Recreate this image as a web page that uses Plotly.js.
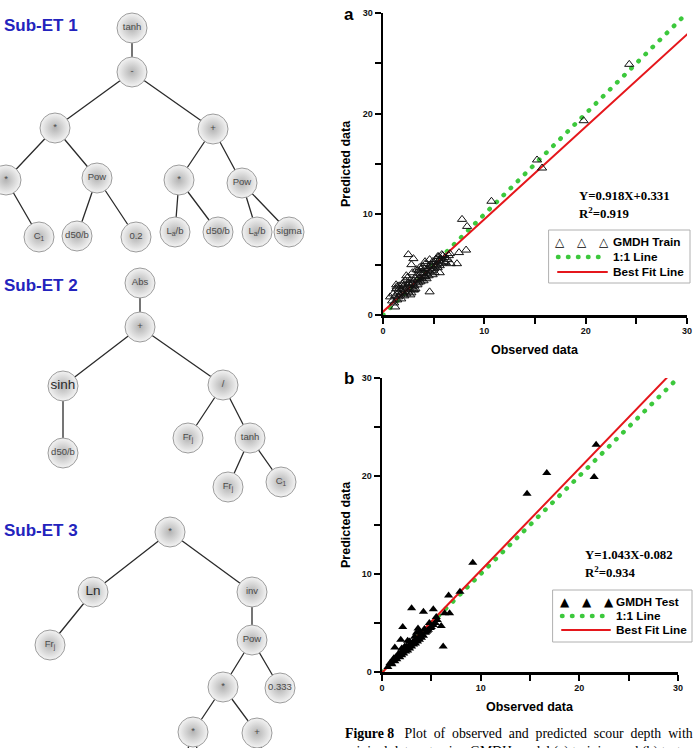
<!DOCTYPE html>
<html><head><meta charset="utf-8">
<script src="https://cdn.plot.ly/plotly-3.0.1.min.js"></script>
<style>html,body{margin:0;padding:0;background:#fff}#chart{width:693px;height:748px}
.js-line, .shapelayer path{stroke-linecap:round !important;}</style>
</head><body><div id="chart"></div>
<script>
// ---------- scatter data (observed vs predicted scour depth) ----------
const trainObs = [0.9,1.0,1.1,1.2,1.3,1.4,1.5,1.5,1.6,1.7,
  1.8,1.8,1.9,2.0,2.0,2.1,2.2,2.2,2.3,2.4,
  2.4,2.5,2.5,2.6,2.7,2.7,2.8,2.9,2.9,3.0,
  3.0,3.1,3.2,3.2,3.3,3.4,3.4,3.5,3.5,3.6,
  3.7,3.7,3.8,3.9,3.9,4.0,4.0,4.1,4.2,4.2,
  4.3,4.4,4.5,4.5,4.6,4.7,4.8,4.8,4.9,5.0,
  5.0,5.1,5.2,5.3,5.4,5.5,5.5,5.6,5.7,5.8,
  5.9,6.0,6.1,6.2,6.4,6.5,1.3,1.6,2.1,2.6,
  3.1,3.6,4.1,4.6,5.1,1.9,2.3,2.8,3.3,3.8,
  4.3,4.9,5.4,
  24.3,19.8,15.2,15.7,10.7,7.8,8.3,8.2,7.5,7.3,6.7,6.6,2.5,3.0,2.8,4.15,4.6,5.6,5.8,1.35,0.7,1.2];
const trainPred = [1.4,2.1,1.2,1.9,2.6,1.5,2.2,1.8,2.9,2.0,
  1.6,2.5,3.1,2.2,2.8,1.9,2.5,3.4,2.1,2.9,
  3.7,2.3,3.2,2.7,2.0,3.5,2.6,3.1,4.2,2.5,
  3.4,2.9,3.6,2.6,3.9,3.0,3.5,4.4,3.2,3.7,
  3.3,4.1,3.6,4.8,3.9,3.4,4.2,4.6,3.8,5.1,
  4.1,4.5,3.9,4.8,4.3,5.0,4.4,4.9,5.3,4.6,
  5.2,4.8,5.5,5.0,4.7,5.4,5.8,4.9,5.6,5.1,
  5.9,5.3,5.7,5.2,5.5,5.9,3.0,2.6,3.0,3.1,
  2.5,4.7,3.8,5.5,4.2,2.3,3.9,2.2,4.5,4.6,
  3.6,4.0,5.8,
  24.9,19.3,15.4,14.6,11.3,9.5,8.8,6.45,6.2,5.1,5.1,6.1,6.0,5.6,5.0,5.3,2.3,4.2,6.0,2.8,1.8,0.8];

const testObs = [0.6,0.8,1.0,1.1,1.3,1.4,1.5,1.6,1.8,1.9,
  2.0,2.1,2.2,2.3,2.4,2.5,2.6,2.7,2.8,2.9,
  3.0,3.1,3.2,3.3,3.4,3.5,3.6,3.7,3.8,3.9,
  4.0,4.1,4.2,4.4,4.5,4.7,4.9,5.0,5.2,5.4,
  5.6,1.2,1.7,2.3,2.8,3.3,3.8,4.3,4.8,2.0,
  2.6,3.5,4.6,5.5,
  9.2,6.75,7.9,3.0,4.2,5.2,2.1,3.65,6.0,6.2,1.9,1.3,6.35,6.85,0.95,14.7,16.7,21.7,21.5];
const testPred = [0.5,0.9,0.8,1.2,1.1,1.5,1.3,1.7,1.5,1.9,
  1.7,2.2,1.9,2.3,2.1,2.6,2.2,2.6,2.4,2.9,
  2.6,3.0,2.8,3.2,2.9,3.3,3.1,3.5,3.3,3.6,
  3.5,3.8,3.7,4.0,4.1,4.3,4.5,4.6,4.8,5.0,
  5.3,1.4,1.9,2.6,3.1,3.6,4.1,4.4,5.0,2.4,
  3.2,4.0,4.2,5.6,
  11.15,7.8,8.2,6.5,6.15,6.4,4.6,4.45,4.7,2.6,3.3,2.5,6.0,6.0,0.9,18.2,20.3,23.2,19.9];

const lineX = [0, 30];
const fitTrain = {slope: 0.918, intercept: 0.331, r2: 0.919};
const fitTest = {slope: 1.043, intercept: -0.082, r2: 0.934};
const axisTicks = [0, 10, 20, 30];
const minorTicks = [5, 15, 25];

// ---------- expression trees (node label, position in the drawing, parent index) ----------
const et1Label = ['tanh','-','*','+','*','Pow','*','Pow','C<sub>1</sub>','d50/b','0.2','L<sub>a</sub>/b','d50/b','L<sub>a</sub>/b','sigma'];
const et1X = [132,132,55,213,6,97,179,242,39,77,136,175,218,257,289];
const et1Y = [28,72,128,129,180,178,180,183,237,236,237,232,232,232,232];
const et1Parent = [-1,0,1,1,2,2,3,3,4,5,5,6,6,7,7];

const et2Label = ['Abs','+','sinh','/','d50/b','Fr<sub>j</sub>','tanh','Fr<sub>j</sub>','C<sub>1</sub>'];
const et2X = [140,140,63,223,63,188,250,228,281];
const et2Y = [283,327,386,385,453,438,438,487,482];
const et2Parent = [-1,0,1,1,2,3,3,6,6];

// null labels: children below the picture's lower edge (only their edges show)
const et3Label = ['*','Ln','inv','Fr<sub>j</sub>','Pow','*','0.333','*','+',null,null,null,null];
const et3X = [170,93,252,50,252,223,280,193,257,178,205,246,271];
const et3Y = [532,592,592,645,640,687,688,732,733,782,782,782,782];
const et3Parent = [-1,0,0,1,2,4,4,5,5,7,7,8,8];

const treeTitles = ['Sub-ET 1','Sub-ET 2','Sub-ET 3'];
const treeTitleY = [25,285,530];

// ---------- build ----------
const W = 693, H = 748;
const px = x => x / W, py = y => 1 - y / H;

const edgeX = [], edgeY = [], nodeX = [], nodeY = [], nodeT = [], nodeFont = [], nodeCol = [];
function addTree(lab, xs, ys, par) {
  for (let i = 0; i < lab.length; i++) {
    if (par[i] >= 0) { edgeX.push(xs[par[i]], xs[i], null); edgeY.push(ys[par[i]], ys[i], null); }
    if (lab[i] === null) continue;
    nodeX.push(xs[i]); nodeY.push(ys[i]); nodeT.push(lab[i]);
    const big = (lab[i] === 'sinh' || lab[i] === 'Ln');
    nodeFont.push(big ? 13.5 : 9.5);
    nodeCol.push(big ? '#2a2a2a' : '#4a4a4a');
  }
}
addTree(et1Label, et1X, et1Y, et1Parent);
addTree(et2Label, et2X, et2Y, et2Parent);
addTree(et3Label, et3X, et3Y, et3Parent);

const GREEN = '#3cc83c', RED = '#e5171c';
const dotted = '0.5px,9.5px';

const traces = [
  // trees
  {type:'scatter', mode:'lines', x:edgeX, y:edgeY, xaxis:'x3', yaxis:'y3',
   line:{color:'#2b2b2b', width:1.3}, hoverinfo:'skip', showlegend:false},
  {type:'scatter', mode:'markers+text', x:nodeX, y:nodeY, text:nodeT, xaxis:'x3', yaxis:'y3',
   textposition:'middle center',
   textfont:{family:'Liberation Sans, Arial, sans-serif', size:nodeFont, color:nodeCol},
   marker:{size:30, color:'#f4f4f4', gradient:{type:'radial', color:'#b4b4b4'},
           line:{color:'#9c9c9c', width:1}},
   hoverinfo:'skip', showlegend:false},
  // panel a
  {type:'scatter', mode:'lines', x:lineX, y:lineX, xaxis:'x', yaxis:'y',
   line:{color:GREEN, width:4.5, dash:dotted}, showlegend:false},
  {type:'scatter', mode:'lines', x:lineX, y:lineX.map(v => fitTrain.slope*v + fitTrain.intercept), xaxis:'x', yaxis:'y',
   line:{color:RED, width:2}, showlegend:false},
  {type:'scatter', mode:'markers', x:trainObs, y:trainPred, xaxis:'x', yaxis:'y', cliponaxis:false,
   marker:{symbol:'triangle-up-open', size:8, color:'#111', line:{width:1}}, showlegend:false},
  // panel b
  {type:'scatter', mode:'lines', x:lineX, y:lineX, xaxis:'x2', yaxis:'y2',
   line:{color:GREEN, width:4.5, dash:dotted}, showlegend:false},
  {type:'scatter', mode:'lines', x:lineX, y:lineX.map(v => fitTest.slope*v + fitTest.intercept), xaxis:'x2', yaxis:'y2',
   line:{color:RED, width:2}, showlegend:false},
  {type:'scatter', mode:'markers', x:testObs, y:testPred, xaxis:'x2', yaxis:'y2', cliponaxis:false,
   marker:{symbol:'triangle-up', size:8, color:'#000'}, showlegend:false}
];

const tickFont = {family:'Liberation Sans, Arial, sans-serif', size:9, color:'#111', weight:'bold'};
function sciAxis(domain) {
  return {domain:domain, range:[0,30], showline:true, linecolor:'#000', linewidth:2.5,
    ticks:'outside', ticklen:6, tickwidth:2, tickcolor:'#000',
    tickmode:'array', tickvals:axisTicks, ticktext:axisTicks.map(String), tickfont:tickFont,
    minor:{tickmode:'array', tickvals:minorTicks, ticks:'outside', ticklen:6, tickwidth:2, tickcolor:'#000', showgrid:false},
    showgrid:false, zeroline:false, fixedrange:true};
}

const sans = 'Liberation Sans, Arial, sans-serif';
const serif = 'Liberation Serif, Times New Roman, serif';
const ann = [];
function A(text, x, y, size, opts) {
  ann.push(Object.assign({text:text, x:px(x), y:py(y), xref:'paper', yref:'paper', showarrow:false,
    xanchor:'left', yanchor:'middle', font:{family:sans, size:size, color:'#000'}}, opts || {}));
}
// tree titles
treeTitles.forEach((t, i) => A('<b>' + t + '</b>', 2, treeTitleY[i], 17, {font:{family:sans, size:17, color:'#2323bd'}}));
// panel letters
A('<b>a</b>', 342, 15, 17);
A('<b>b</b>', 342, 378, 17);
// axis titles
A('<b>Predicted data</b>', 346, 164, 12.5, {textangle:-90, xanchor:'center'});
A('<b>Predicted data</b>', 346, 525, 12.5, {textangle:-90, xanchor:'center'});
A('<b>Observed data</b>', 535, 350, 12.5, {xanchor:'center'});
A('<b>Observed data</b>', 530, 707, 12.5, {xanchor:'center'});
// equations
const eqFont = {family:serif, size:12.8, color:'#000'};
A('<b>Y=' + fitTrain.slope + 'X+' + fitTrain.intercept + '</b>', 577, 196, 12.8, {font:eqFont});
A('<b>R<sup>2</sup>=' + fitTrain.r2 + '</b>', 577, 213, 12.8, {font:eqFont});
A('<b>Y=' + fitTest.slope + 'X' + fitTest.intercept + '</b>', 583, 555, 12.8, {font:eqFont});
A('<b>R<sup>2</sup>=' + fitTest.r2 + '</b>', 583, 572, 12.8, {font:eqFont});

// legends
const shapes = [];
function legend(box, rows, tri, names) {
  shapes.push({type:'rect', xref:'paper', yref:'paper', x0:px(box[0]), x1:px(box[1]), y0:py(box[2]), y1:py(box[3]),
    line:{color:'#b0b0b0', width:1}, fillcolor:'rgba(0,0,0,0)'});
  [box[4], box[4]+22, box[4]+44].forEach(xx => A(tri, xx, rows[0], 12, {xanchor:'center', font:{family:'DejaVu Sans', size:12, color:'#000'}}));
  shapes.push({type:'line', xref:'paper', yref:'paper', x0:px(box[5]), x1:px(box[6]), y0:py(rows[1]), y1:py(rows[1]),
    line:{color:GREEN, width:4.5, dash:dotted}});
  shapes.push({type:'line', xref:'paper', yref:'paper', x0:px(box[5]), x1:px(box[6]), y0:py(rows[2]), y1:py(rows[2]),
    line:{color:RED, width:2}});
  names.forEach((n, i) => A('<b>' + n + '</b>', box[7], rows[i], 11.8));
}
legend([549,690,230,283,560,558,607,611], [242,257,272], '\u25B3', ['GMDH Train','1:1 Line','Best Fit Line']);
legend([553,692,590,642,565,562,610,614], [602,616,630], '\u25B2', ['GMDH Test','1:1 Line','Best Fit Line']);

// caption (second line is cut by the lower edge, as in the source page)
const capFont = {family:serif, size:13.8, color:'#000'};
A('<b>Figure 8</b>\u00a0\u00a0\u00a0Plot\u00a0 of\u00a0 observed\u00a0 and\u00a0 predicted\u00a0 scour\u00a0 depth\u00a0 with', 343, 733, 13.8, {font:capFont});
A('original data set using GMDH model (a) training and (b) test', 343, 752, 13.8, {font:capFont});

const layout = {
  width:W, height:H, margin:{l:0, r:0, t:0, b:0},
  paper_bgcolor:'#fff', plot_bgcolor:'rgba(0,0,0,0)', showlegend:false,
  xaxis: sciAxis([383/W, 687/W]),
  yaxis: sciAxis([1-315/H, 1-13/H]),
  xaxis2: sciAxis([382/W, 678/W]),
  yaxis2: sciAxis([1-672/H, 1-378/H]),
  xaxis3: {domain:[0, 340/W], range:[0,340], visible:false, fixedrange:true},
  yaxis3: {domain:[0,1], range:[H,0], visible:false, fixedrange:true},
  annotations: ann, shapes: shapes
};
layout.yaxis.anchor = 'x'; layout.xaxis.anchor = 'y';
layout.yaxis2.anchor = 'x2'; layout.xaxis2.anchor = 'y2';
layout.xaxis3.anchor = 'y3'; layout.yaxis3.anchor = 'x3';

Plotly.newPlot('chart', traces, layout, {displayModeBar:false, staticPlot:true});
</script></body></html>
